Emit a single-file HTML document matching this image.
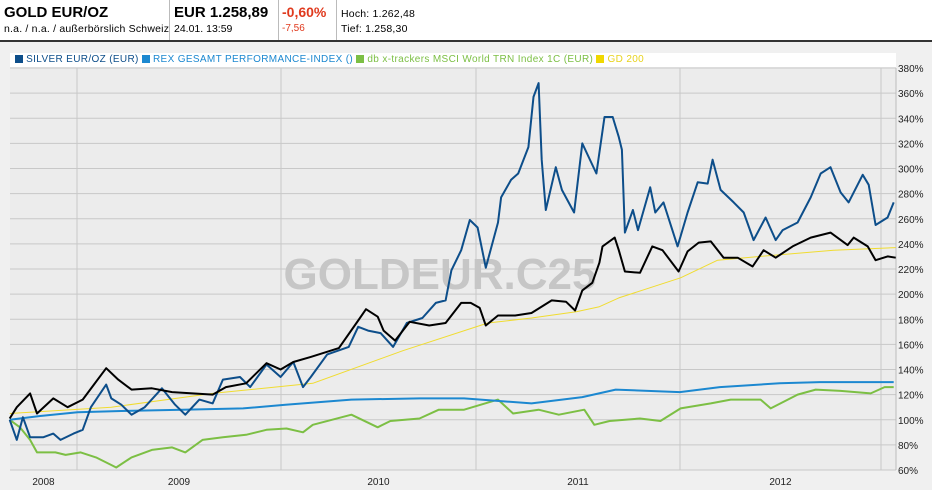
<!DOCTYPE html>
<html><head><meta charset="utf-8"><style>
body{margin:0;width:932px;height:494px;overflow:hidden;background:#fff;font-family:"Liberation Sans",sans-serif;position:relative}
.h{position:absolute;top:0;height:40px;border-right:1px solid #bbb}
.t{position:absolute;white-space:nowrap}
</style></head><body>
<div style="position:absolute;left:0;top:0;width:932px;height:40px;border-bottom:2px solid #333">
 <div class="h" style="left:0;width:169px">
  <div class="t" style="left:4px;top:4px;font-size:15px;font-weight:bold">GOLD EUR/OZ</div>
  <div class="t" style="left:4px;top:23px;font-size:10.5px;letter-spacing:0.2px">n.a. / n.a. / außerbörslich Schweiz</div>
 </div>
 <div class="h" style="left:170px;width:108px">
  <div class="t" style="left:4px;top:4px;font-size:15px;font-weight:bold">EUR 1.258,89</div>
  <div class="t" style="left:4px;top:23px;font-size:10.5px">24.01. 13:59</div>
 </div>
 <div class="h" style="left:279px;width:57px">
  <div class="t" style="left:3px;top:4px;font-size:14px;font-weight:bold;color:#e03a1e">-0,60%</div>
  <div class="t" style="left:3px;top:23px;font-size:10px;color:#e03a1e">-7,56</div>
 </div>
 <div class="t" style="left:341px;top:8px;font-size:10.5px;letter-spacing:0.2px">Hoch: 1.262,48</div>
 <div class="t" style="left:341px;top:23px;font-size:10.5px;letter-spacing:0.2px">Tief: 1.258,30</div>
</div>
<div style="position:absolute;left:0;top:42px;width:932px;height:448px;background:#f0f0f0"></div>
<div style="position:absolute;left:10px;top:53px;width:886px;height:14px;background:#fff;font-size:10px;letter-spacing:0.35px;line-height:14px;white-space:nowrap">
 <span style="color:#0d4e8a;margin-left:5px"><span style="display:inline-block;width:8px;height:8px;background:#0d4e8a;vertical-align:-1px"></span> SILVER EUR/OZ (EUR)</span>
 <span style="color:#1c88d0"><span style="display:inline-block;width:8px;height:8px;background:#1c88d0;vertical-align:-1px"></span> REX GESAMT PERFORMANCE-INDEX ()</span>
 <span style="color:#7cbf44"><span style="display:inline-block;width:8px;height:8px;background:#7cbf44;vertical-align:-1px"></span> db x-trackers MSCI World TRN Index 1C (EUR)</span>
 <span style="color:#e8d31c"><span style="display:inline-block;width:8px;height:8px;background:#f0d800;vertical-align:-1px"></span> GD 200</span>
</div>
<svg id="chart" style="position:absolute;left:0;top:0" width="932" height="494"></svg>
<script>
const yTicks=[60,80,100,120,140,160,180,200,220,240,260,280,300,320,340,360,380];
const yearTicks=[2009,2010,2011,2012,2013];
const yearLabels=["2008","2009","2010","2011","2012"];
const goldDates=[2008.670,2008.705,2008.770,2008.804,2008.884,2008.954,2009.028,2009.083,2009.143,2009.202,2009.267,2009.367,2009.466,2009.566,2009.665,2009.730,2009.829,2009.929,2009.998,2010.063,2010.153,2010.297,2010.396,2010.436,2010.496,2010.526,2010.585,2010.660,2010.760,2010.844,2010.924,2010.973,2011.018,2011.048,2011.108,2011.192,2011.272,2011.371,2011.441,2011.486,2011.521,2011.570,2011.605,2011.620,2011.680,2011.700,2011.730,2011.804,2011.864,2011.914,2011.993,2012.038,2012.093,2012.153,2012.217,2012.287,2012.361,2012.416,2012.476,2012.560,2012.650,2012.749,2012.834,2012.864,2012.934,2012.973,2013.033,2013.073];
const goldValues=[101,110,121,105,117,110,116,128,141,132,124,125,122,121,120,126,129,145,140,146,150,157,179,188,182,171,163,178,175,177,193,193,189,175,183,183,185,195,194,187,203,209,225,238,245,235,218,217,238,235,218,234,241,242,229,229,222,235,229,238,245,249,239,245,238,227,230,229];
const silverDates=[2008.670,2008.705,2008.735,2008.770,2008.834,2008.884,2008.919,2008.983,2009.028,2009.068,2009.143,2009.168,2009.217,2009.267,2009.332,2009.416,2009.481,2009.531,2009.600,2009.665,2009.715,2009.799,2009.849,2009.929,2009.998,2010.063,2010.113,2010.153,2010.237,2010.347,2010.396,2010.446,2010.511,2010.575,2010.645,2010.725,2010.794,2010.844,2010.874,2010.924,2010.968,2011.008,2011.048,2011.108,2011.123,2011.172,2011.207,2011.257,2011.282,2011.307,2011.322,2011.342,2011.391,2011.421,2011.481,2011.521,2011.590,2011.630,2011.670,2011.700,2011.715,2011.730,2011.769,2011.794,2011.854,2011.879,2011.919,2011.988,2012.038,2012.088,2012.138,2012.162,2012.202,2012.267,2012.317,2012.366,2012.426,2012.476,2012.511,2012.585,2012.650,2012.700,2012.749,2012.799,2012.839,2012.909,2012.939,2012.973,2013.033,2013.063];
const silverValues=[100,84,102,86,86,89,84,89,92,110,128,117,112,104,110,125,112,104,116,113,132,134,126,144,134,146,126,134,152,158,174,171,169,158,177,181,193,195,219,235,259,253,221,257,277,291,296,317,357,368,307,267,301,283,265,320,296,341,341,325,315,249,267,251,285,265,273,238,265,289,288,307,283,273,265,243,261,243,251,257,277,296,301,281,273,295,287,255,261,273];
const rexDates=[2008.670,2008.819,2009.003,2009.217,2009.516,2009.814,2010.023,2010.361,2010.710,2010.939,2011.272,2011.521,2011.685,2011.999,2012.198,2012.496,2012.695,2013.063];
const rexValues=[100,103,106,107,108,109,112,116,117,117,113,118,124,122,126,129,130,130];
const msciDates=[2008.670,2008.720,2008.770,2008.804,2008.894,2008.944,2009.018,2009.093,2009.168,2009.192,2009.267,2009.367,2009.466,2009.531,2009.615,2009.715,2009.829,2009.929,2010.028,2010.113,2010.163,2010.361,2010.496,2010.561,2010.710,2010.809,2010.939,2011.108,2011.182,2011.307,2011.406,2011.531,2011.580,2011.655,2011.804,2011.904,2012.003,2012.153,2012.252,2012.401,2012.451,2012.585,2012.675,2012.799,2012.949,2013.018,2013.063];
const msciValues=[100,94,84,74,74,72,74,70,64,62,70,76,78,74,84,86,88,92,93,90,96,104,94,99,101,108,108,116,105,108,104,108,96,99,101,99,109,113,116,116,109,120,124,123,121,126,126];
const gdDates=[2008.670,2008.670,2009.168,2009.665,2010.163,2010.625,2011.058,2011.272,2011.491,2011.605,2011.700,2012.003,2012.187,2012.401,2012.764,2013.073];
const gdValues=[105,105,110,121,129,155,177,181,186,190,197,213,227,230,235,237];

const L=10,R=896,T=68,B=470;
const yS=v=>B-(v-60)/320*(B-T);
const yrPx=[[2009,77],[2010,281],[2011,476],[2012,680],[2013,881]];
function xS(t){
  let a=yrPx[0],b=yrPx[1];
  for(let i=0;i<yrPx.length-1;i++){if(t>=yrPx[i][0]){a=yrPx[i];b=yrPx[i+1];}}
  return a[1]+(t-a[0])*(b[1]-a[1]);
}
const svg=document.getElementById('chart');const NS='http://www.w3.org/2000/svg';
function mk(tag,at){const e=document.createElementNS(NS,tag);for(const k in at)e.setAttribute(k,at[k]);svg.appendChild(e);return e;}
const bg=mk('rect',{x:L,y:T,width:R-L,height:B-T,fill:'#ececec'});


yTicks.forEach(v=>{
  const g=mk('line',{x1:L,x2:R,y1:yS(v),y2:yS(v),stroke:'#c8c8c8','stroke-width':1});
  
  
  const tx=mk('text',{x:R+2,y:yS(v)+4,'font-size':10,fill:'#222','font-family':'Liberation Sans, sans-serif'});
  tx.textContent=v+'%';
  
  
});
yearTicks.forEach(y=>{
  const g=mk('line',{x1:xS(y),x2:xS(y),y1:T,y2:B,stroke:'#c8c8c8','stroke-width':1});
  
  
});
yearLabels.forEach((lab,i)=>{
  const y0=+lab, a=Math.max(xS(y0),L), b=xS(y0+1);
  const tx=mk('text',{x:(a+b)/2,y:B+15,'font-size':10,fill:'#222','text-anchor':'middle','font-family':'Liberation Sans, sans-serif'});
  tx.textContent=lab;
  
  
});
const wm=mk('text',{x:440,y:289,'font-size':44,'font-weight':'bold',fill:'#c6c6c6','text-anchor':'middle','font-family':'Liberation Sans, sans-serif'});
wm.textContent='GOLDEUR.C25';


mk('line',{x1:R,x2:R,y1:T,y2:B,stroke:'#bbb','stroke-width':1});
function line(d,v,c,w,name){
  const p=d.map((t,i)=>xS(t).toFixed(1)+','+yS(v[i]).toFixed(1)).join(' ');
  const e=mk('polyline',{points:p,fill:'none',stroke:c,'stroke-width':w,'stroke-linejoin':'round'});
  
  
}
line(msciDates,msciValues,'#7cbf44',2,'msci-line');
line(rexDates,rexValues,'#1c88d0',2,'rex-line');
line(gdDates,gdValues,'#f0dc30',1,'gd200-line');
line(silverDates,silverValues,'#0d4e8a',2,'silver-line');
line(goldDates,goldValues,'#000',2,'gold-line');
</script>
</body></html>
